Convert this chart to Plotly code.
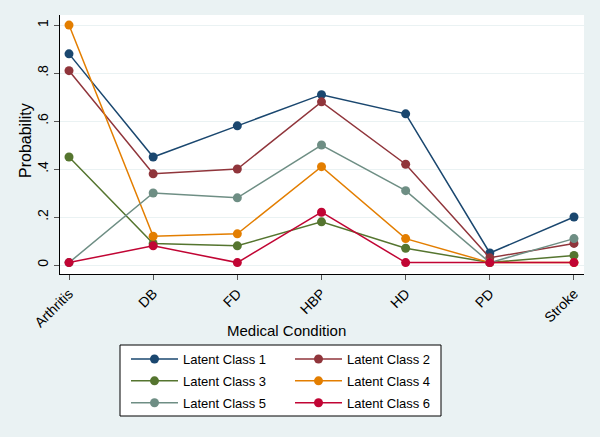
import plotly.graph_objects as go

categories = ["Arthritis", "DB", "FD", "HBP", "HD", "PD", "Stroke"]
class1 = [0.88, 0.45, 0.58, 0.71, 0.63, 0.05, 0.20]
class2 = [0.81, 0.38, 0.40, 0.68, 0.42, 0.03, 0.09]
class3 = [0.45, 0.09, 0.08, 0.18, 0.07, 0.01, 0.04]
class4 = [1.00, 0.12, 0.13, 0.41, 0.11, 0.01, 0.01]
class5 = [0.01, 0.30, 0.28, 0.50, 0.31, 0.01, 0.11]
class6 = [0.01, 0.08, 0.01, 0.22, 0.01, 0.01, 0.01]
y_tickvals = [0, 0.2, 0.4, 0.6, 0.8, 1.0]
y_ticktext = ["0", ".2", ".4", ".6", ".8", "1"]

series = [
    ("Latent Class 1", class1, "#1a476f", "legend"),
    ("Latent Class 2", class2, "#90353b", "legend2"),
    ("Latent Class 3", class3, "#55752f", "legend"),
    ("Latent Class 4", class4, "#e37e00", "legend2"),
    ("Latent Class 5", class5, "#6e8e84", "legend"),
    ("Latent Class 6", class6, "#c10534", "legend2"),
]

FONT = "Liberation Sans, Arial, sans-serif"

L, R, T, B = 60, 16, 15, 163
PW, PH = 600 - L - R, 437 - T - B


def px_x(p):
    return (p - L) / PW


def px_y(p):
    return (437 - B - p) / PH


fig = go.Figure()
for name, vals, color, lg in series:
    fig.add_trace(go.Scatter(
        x=list(range(len(categories))), y=vals, name=name, mode="lines+markers",
        line=dict(color=color, width=1.5),
        marker=dict(color=color, size=9),
        legend=lg, legendgroup=name,
    ))

fig.update_layout(
    width=600, height=437,
    paper_bgcolor="#eaf2f3", plot_bgcolor="#ffffff",
    margin=dict(l=L, r=R, t=T, b=B, autoexpand=False),
    font=dict(family=FONT, size=13, color="#000000"),
    xaxis=dict(
        range=[-0.107, 6.119], tickvals=list(range(len(categories))), ticktext=categories,
        tickangle=-45, showgrid=False, zeroline=False, showline=True, linecolor="#000000",
        linewidth=1, ticks="outside", ticklen=5, tickcolor="#555555",
        tickfont=dict(size=14),
    ),
    yaxis=dict(
        range=[-0.0375, 1.042], tickvals=y_tickvals, ticktext=y_ticktext, tickangle=-90,
        showgrid=True, gridcolor="#eaf2f3", gridwidth=1, zeroline=False, showline=True,
        linecolor="#000000", linewidth=1, ticks="outside", ticklen=5, tickcolor="#555555",
        tickfont=dict(size=14),
    ),
    legend=dict(
        x=px_x(126), y=px_y(344), xanchor="left", yanchor="top", itemwidth=47,
        bgcolor="rgba(0,0,0,0)", borderwidth=0, font=dict(size=13), tracegroupgap=2,
    ),
    legend2=dict(
        x=px_x(290), y=px_y(344), xanchor="left", yanchor="top", itemwidth=47,
        bgcolor="rgba(0,0,0,0)", borderwidth=0, font=dict(size=13), tracegroupgap=2,
    ),
    shapes=[dict(
        type="rect", xref="paper", yref="paper",
        x0=px_x(120), x1=px_x(441), y0=px_y(416), y1=px_y(345),
        line=dict(color="#000000", width=1), fillcolor="#ffffff", layer="below",
    )],
    annotations=[
        dict(text="Medical Condition", xref="paper", yref="paper",
             x=px_x(286), y=px_y(330), xanchor="center", yanchor="middle",
             showarrow=False, font=dict(size=15)),
        dict(text="Probability", xref="paper", yref="paper",
             x=px_x(25), y=px_y(141), xanchor="center", yanchor="middle",
             textangle=-90, showarrow=False, font=dict(size=16)),
    ],
)

fig.write_html(
    "out.html",
    config={"displayModeBar": False},
    post_script="document.body.style.margin='0';document.body.style.background='#eaf2f3';",
)
